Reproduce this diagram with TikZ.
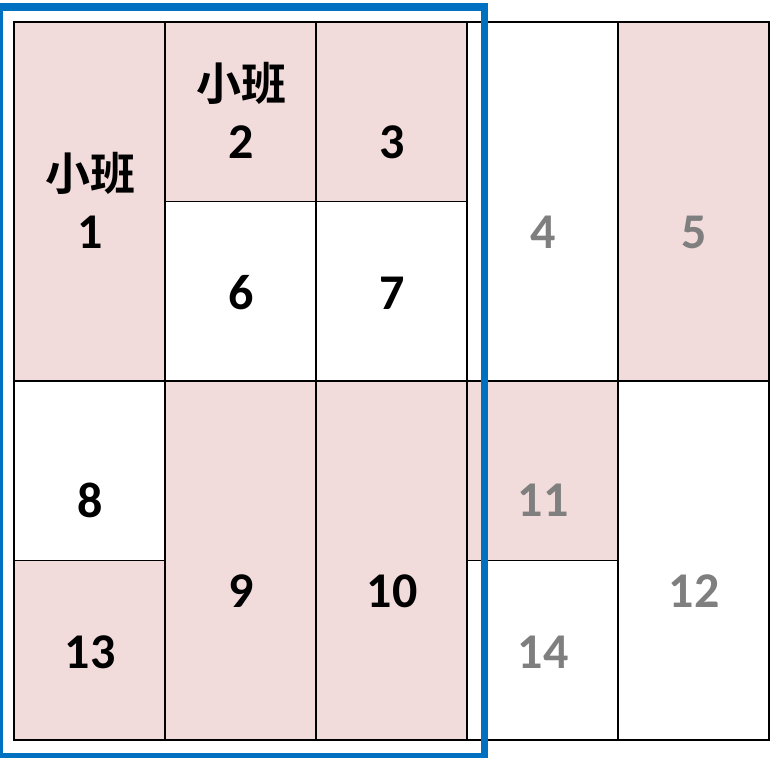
\documentclass[tikz,border=0pt]{standalone}
\usepackage{fontspec}
\setmainfont{Carlito}
\newfontfamily\cjk{Noto Sans CJK SC}[BoldFont={Noto Sans CJK SC Bold}]
\definecolor{pinkc}{HTML}{F2DCDB}
\definecolor{bluec}{HTML}{0070C0}
\definecolor{grayt}{HTML}{7F7F7F}
\begin{document}
\begin{tikzpicture}[x=1pt,y=-1pt,
  cell/.style={draw=black,line width=1.6pt,anchor=north west,inner sep=0pt,outer sep=0pt},
  pinkcell/.style={cell,fill=pinkc},
  whitecell/.style={cell,fill=white},
  w1/.style={minimum width=151pt},
  h1/.style={minimum height=179.5pt},
  h2/.style={minimum height=359pt},
  lbl/.style={font=\fontsize{50}{54}\selectfont\bfseries,inner sep=0pt},
  dark/.style={lbl,text=black},
  light/.style={lbl,text=grayt},
  cn/.style={font=\fontsize{45}{50}\selectfont\cjk\bfseries,inner sep=0pt}]
\useasboundingbox (0,0) rectangle (770,757);
\fill[white] (0,0) rectangle (770,757);
% cells
\node[pinkcell,w1,h2]  (c1)  at (14,22)  {};
\node[pinkcell,w1,h1]  (c2)  at (165,22) {};
\node[pinkcell,w1,h1]  (c3)  at (316,22) {};
\node[whitecell,w1,h2] (c4)  at (467,22) {};
\node[pinkcell,w1,h2]  (c5)  at (618,22) {};
\node[whitecell,w1,h1] (c6)  at (165,201.5) {};
\node[whitecell,w1,h1] (c7)  at (316,201.5) {};
\node[whitecell,w1,h1] (c8)  at (14,381) {};
\node[pinkcell,w1,h2]  (c9)  at (165,381) {};
\node[pinkcell,w1,h2]  (c10) at (316,381) {};
\node[pinkcell,w1,h1]  (c11) at (467,381) {};
\node[whitecell,w1,h2] (c12) at (618,381) {};
\node[pinkcell,w1,h1]  (c13) at (14,560.5) {};
\node[whitecell,w1,h1] (c14) at (467,560.5) {};
% labels
\node[cn]    (t1a) at (90,173)  {小班};
\node[dark]  (t1)  at (90,232)  {1};
\node[cn]    (t2a) at (241,83)  {小班};
\node[dark]  (t2)  at (241,142) {2};
\node[dark]  (t3)  at (392,142) {3};
\node[light] (t4)  at (543,232) {4};
\node[light] (t5)  at (694,232) {5};
\node[dark]  (t6)  at (241,293) {6};
\node[dark]  (t7)  at (392,293) {7};
\node[dark]  (t8)  at (90,500)  {8};
\node[dark]  (t9)  at (241,591) {9};
\node[dark]  (t10) at (392,591) {10};
\node[light] (t11) at (543,500) {11};
\node[light] (t12) at (694,591) {12};
\node[dark]  (t13) at (90,652)  {13};
\node[light] (t14) at (543,652) {14};
% blue frame
\draw[bluec,line width=7.5pt] (-0.4,7.2) rectangle (484.7,756.4);
\end{tikzpicture}
\end{document}
